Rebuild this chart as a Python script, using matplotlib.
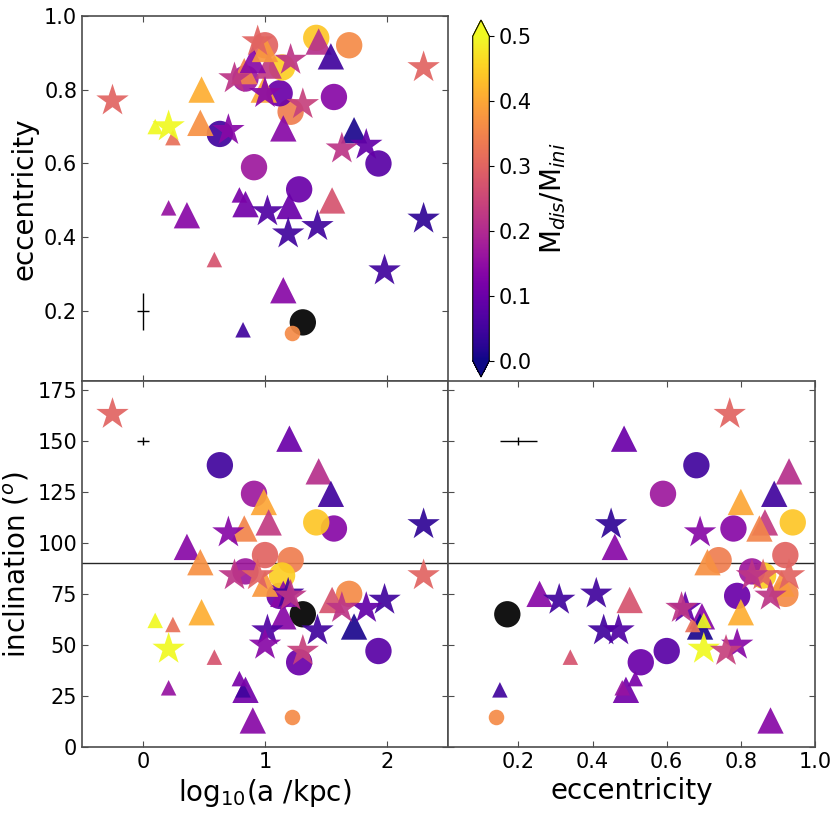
import numpy as np
import matplotlib
matplotlib.use('Agg')
import matplotlib.pyplot as plt
from matplotlib.colors import Normalize

# per-object values (nan = no M_dis, drawn black)
log_a = [-0.25, 1.20, 0.63, 0.91, 1.44, 1.54, 0.99, 2.30, 0.36, 0.70,
         1.565, 1.42, 1.03, 0.83, 1.21, 0.47, 1.00, 1.31, 1.15, 1.15,
         1.98, 1.43, 1.19, 1.02, 1.83, 1.28, 1.93, 1.12, 1.69, 1.14,
         2.30, 0.21, 0.10, 0.245, 1.63, 1.73, 0.21, 0.585, 0.82, 1.22,
         0.90, 0.84, 0.79, 1.55, 0.48, 0.75, 0.94, 1.00, 1.21, 1.00,
         1.31, 0.84]
ecc = [0.77, 0.485, 0.68, 0.59, 0.93, 0.89, 0.80, 0.45, 0.46, 0.69,
       0.78, 0.94, 0.865, 0.85, 0.74, 0.71, 0.92, 0.17, 0.695, 0.257,
       0.31, 0.43, 0.41, 0.47, 0.65, 0.53, 0.60, 0.79, 0.92, 0.86,
       0.86, 0.70, 0.70, 0.67, 0.64, 0.69, 0.48, 0.34, 0.15, 0.14,
       0.88, 0.49, 0.515, 0.50, 0.80, 0.83, 0.93, 0.91, 0.88, 0.79,
       0.76, 0.83]
incl = [163, 151, 138, 124, 135, 124, 120, 109, 98, 105,
        107, 110, 110, 107, 91.5, 90.5, 94, 65, 64, 75,
        72, 57, 75, 57, 68, 41.5, 47, 74, 75, 84,
        84, 48, 62, 60, 68, 59, 29, 44, 28, 14.5,
        13, 28, 33.5, 72, 66, 84, 84, 80, 74, 50,
        47, 86]
m_frac = [0.30, 0.10, 0.05, 0.17, 0.21, 0.05, 0.40, 0.03, 0.14, 0.14,
          0.14, 0.44, 0.23, 0.35, 0.34, 0.37, 0.30, np.nan, 0.14, 0.14,
          0.05, 0.05, 0.05, 0.07, 0.09, 0.10, 0.08, 0.10, 0.36, 0.45,
          0.30, 0.50, 0.50, 0.32, 0.22, 0.01, 0.16, 0.27, 0.05, 0.36,
          0.14, 0.11, 0.12, 0.27, 0.41, 0.22, 0.30, 0.38, 0.22, 0.14,
          0.24, 0.17]
shape = ['*', '^', 'o', 'o', '^', '^', '^', '*', '^', '*',
         'o', 'o', '^', '^', 'o', '^', 'o', 'o', '^', '^',
         '*', '*', '*', '*', '*', 'o', 'o', 'o', 'o', 'o',
         '*', '*', '^', '^', '*', '^', '^', '^', '^', 'o',
         '^', '^', '^', '^', '^', '*', '*', '^', '*', '*',
         '*', 'o']
small = [0, 0, 0, 0, 0, 0, 0, 0, 0, 0,
         0, 0, 0, 0, 0, 0, 0, 0, 0, 0,
         0, 0, 0, 0, 0, 0, 0, 0, 0, 0,
         0, 0, 1, 1, 0, 0, 1, 1, 1, 1,
         0, 0, 1, 0, 0, 0, 0, 0, 0, 0,
         0, 0]

log_a = np.array(log_a); ecc = np.array(ecc); incl = np.array(incl)
m_frac = np.array(m_frac); shape = np.array(shape); small = np.array(small)

cmap = plt.get_cmap('plasma').copy()
cmap.set_bad('k')
norm = Normalize(vmin=0, vmax=0.5)

fig = plt.figure(figsize=(8.3, 8.3), dpi=100)


def px_axes(l, t, r, b):
    return fig.add_axes([l / 830, 1 - b / 830, (r - l) / 830, (b - t) / 830])


ax_tl = px_axes(82, 15.7, 448, 381.5)
ax_bl = px_axes(82, 381.5, 448, 747)
ax_br = px_axes(448, 381.5, 815, 747)
cax = px_axes(472.7, 20, 489.3, 377)


def draw(ax, x, y):
    sc = None
    for m in ['o', '^', '*']:
        for sm in [0, 1]:
            sel = (shape == m) & (small == sm)
            if not sel.any():
                continue
            s = 125 if sm else (600 if m == '*' else 360)
            sc = ax.scatter(x[sel], y[sel], c=m_frac[sel], cmap=cmap, norm=norm,
                            marker=m, s=s, alpha=0.92, linewidths=0,
                            plotnonfinite=True, zorder=3)
    return sc


sc = draw(ax_tl, log_a, ecc)
draw(ax_bl, log_a, incl)
draw(ax_br, ecc, incl)

# typical uncertainties
ax_tl.errorbar(0, 0.2, xerr=0.05, yerr=0.05, color='k', lw=1)
ax_bl.errorbar(0, 150, xerr=0.05, yerr=2, color='k', lw=1)
ax_br.errorbar(0.2, 150, xerr=0.05, yerr=2, color='k', lw=1)

ax_bl.axhline(90, color='0.15', lw=1, zorder=2)
ax_br.axhline(90, color='0.15', lw=1, zorder=2)

ax_tl.set_xlim(-0.5, 2.5)
ax_bl.set_xlim(-0.5, 2.5)
ax_tl.set_ylim(0.01, 1.0)
ax_br.set_xlim(0.01, 1.0)
ax_bl.set_ylim(0, 179)
ax_br.set_ylim(0, 179)

ax_tl.set_xticks([0, 1, 2])
ax_bl.set_xticks([0, 1, 2])
ax_tl.set_yticks([0.2, 0.4, 0.6, 0.8, 1.0])
ax_br.set_xticks([0.2, 0.4, 0.6, 0.8, 1.0])
ax_bl.set_yticks(np.arange(0, 176, 25))
ax_br.set_yticks(np.arange(0, 176, 25))

for ax in [ax_tl, ax_bl, ax_br]:
    ax.tick_params(direction='in', top=True, right=True, labelsize=15,
                   color='0.3', length=4)
    for sp in ax.spines.values():
        sp.set_color('0.3')
        sp.set_linewidth(1.2)

ax_tl.tick_params(labelbottom=False)
ax_br.tick_params(labelleft=False)
ax_br.set_xticklabels(['0.2', '0.4', '0.6', '0.8', '1.0'])

ax_tl.set_ylabel('eccentricity', fontsize=20)
ax_bl.set_ylabel('inclination ($^o$)', fontsize=20)
ax_bl.set_xlabel('log$_{10}$(a /kpc)', fontsize=20)
ax_br.set_xlabel('eccentricity', fontsize=20)

cb = fig.colorbar(plt.cm.ScalarMappable(norm=norm, cmap=cmap), cax=cax, extend='both')
cb.set_ticks([0, 0.1, 0.2, 0.3, 0.4, 0.5])
cb.ax.tick_params(labelsize=15)
cb.set_label('M$_{dis}$/M$_{ini}$', fontsize=20)

fig.savefig('out.png', dpi=100)
